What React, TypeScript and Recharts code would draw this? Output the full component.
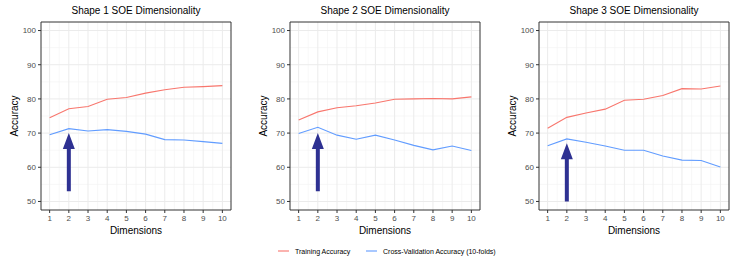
import React from "react";
import {
  LineChart,
  Line,
  XAxis,
  YAxis,
  CartesianGrid,
  ReferenceLine,
  ReferenceArea,
} from "recharts";

// dimensions tested for each shape
const dims = [1, 2, 3, 4, 5, 6, 7, 8, 9, 10];

const shape1Train = [74.5, 77.1, 77.8, 79.9, 80.4, 81.7, 82.7, 83.4, 83.6, 83.9];
const shape1Cv = [69.5, 71.3, 70.6, 71.0, 70.5, 69.7, 68.1, 68.0, 67.5, 67.0];

const shape2Train = [73.8, 76.2, 77.4, 78.0, 78.8, 79.9, 80.0, 80.1, 80.0, 80.6];
const shape2Cv = [69.9, 71.7, 69.4, 68.2, 69.4, 68.0, 66.4, 65.1, 66.2, 64.9];

const shape3Train = [71.4, 74.6, 75.9, 77.0, 79.6, 79.9, 81.0, 83.0, 82.9, 83.8];
const shape3Cv = [66.3, 68.3, 67.3, 66.2, 65.0, 65.0, 63.3, 62.1, 62.0, 60.1];

const titles = ["Shape 1 SOE Dimensionality", "Shape 2 SOE Dimensionality", "Shape 3 SOE Dimensionality"];
// arrow marking the chosen dimensionality: [dimension, from accuracy, to accuracy]
const arrows: [number, number, number][] = [
  [2, 53, 70],
  [2, 53, 70],
  [2, 50, 67],
];

const yTicks = [50, 60, 70, 80, 90, 100];
const yMinor = [55, 65, 75, 85, 95];
const xMinor = [1.5, 2.5, 3.5, 4.5, 5.5, 6.5, 7.5, 8.5, 9.5];

const RED = "#F8766D";
const BLUE = "#619CFF";
const NAVY = "#2E3192";
const FONT = "'Liberation Sans', Arial, Helvetica, sans-serif";

const X_DOMAIN: [number, number] = [0.55, 10.45];
const Y_DOMAIN: [number, number] = [47.5, 102.5];

const CHART_W = 235;
const CHART_H = 240;
const Y_AXIS_W = 41;
const panelLeft = [0, 249, 498];

function Arrow(props: any) {
  const { x1, y1, x2, y2 } = props;
  const x = (x1 + x2) / 2;
  const tip = Math.min(y1, y2);
  const base = Math.max(y1, y2);
  const headLen = 16;
  const headHalf = 6;
  const shaftHalf = 2;
  const d = [
    `M${x - shaftHalf},${base}`,
    `L${x - shaftHalf},${tip + headLen}`,
    `L${x - headHalf},${tip + headLen}`,
    `L${x},${tip}`,
    `L${x + headHalf},${tip + headLen}`,
    `L${x + shaftHalf},${tip + headLen}`,
    `L${x + shaftHalf},${base}`,
    "Z",
  ].join(" ");
  return <path d={d} fill={NAVY} stroke="none" />;
}

function Panel({ train, cv, arrow }: { train: number[]; cv: number[]; arrow: [number, number, number] }) {
  const rows = dims.map((d, i) => ({ dim: d, train: train[i], cv: cv[i] }));
  const tickStyle = { fontSize: 8, fill: "#4D4D4D", fontFamily: FONT };
  return (
    <LineChart width={CHART_W} height={CHART_H} data={rows} margin={{ top: 22, right: 4, bottom: 0, left: 0 }}>
      <CartesianGrid
        horizontalValues={yMinor}
        verticalValues={xMinor}
        stroke="#F2F2F2"
        strokeWidth={0.6}
      />
      <CartesianGrid horizontalValues={yTicks} verticalValues={dims} stroke="#EBEBEB" strokeWidth={1} />
      <XAxis
        type="number"
        dataKey="dim"
        domain={X_DOMAIN}
        ticks={dims}
        interval={0}
        height={CHART_H - 22 - 188}
        tickSize={3}
        tickMargin={2}
        axisLine={false}
        tickLine={{ stroke: "#333333" }}
        tick={tickStyle}
      />
      <YAxis
        type="number"
        domain={Y_DOMAIN}
        ticks={yTicks}
        interval={0}
        width={Y_AXIS_W}
        tickSize={3}
        tickMargin={2}
        axisLine={false}
        tickLine={{ stroke: "#333333" }}
        tick={tickStyle}
      />
      <Line type="linear" dataKey="train" stroke={RED} strokeWidth={1.1} dot={false} isAnimationActive={false} />
      <Line type="linear" dataKey="cv" stroke={BLUE} strokeWidth={1.1} dot={false} isAnimationActive={false} />
      <ReferenceLine
        segment={[
          { x: arrow[0], y: arrow[1] },
          { x: arrow[0], y: arrow[2] },
        ]}
        shape={Arrow}
      />
      <ReferenceArea
        x1={X_DOMAIN[0]}
        x2={X_DOMAIN[1]}
        y1={Y_DOMAIN[0]}
        y2={Y_DOMAIN[1]}
        fill="none"
        stroke="#333333"
        strokeWidth={1}
        ifOverflow="visible"
      />
    </LineChart>
  );
}

const seriesSets = [
  [shape1Train, shape1Cv],
  [shape2Train, shape2Cv],
  [shape3Train, shape3Cv],
];

export default function App() {
  return (
    <div
      style={{
        position: "absolute",
        left: 0,
        top: 0,
        width: 733,
        height: 279,
        background: "#fff",
        fontFamily: FONT,
        overflow: "hidden",
      }}
    >
      {seriesSets.map(([train, cv], i) => {
        const left = panelLeft[i];
        const plotL = left + Y_AXIS_W;
        const plotW = CHART_W - Y_AXIS_W - 4;
        return (
          <React.Fragment key={i}>
            <div style={{ position: "absolute", left, top: 0 }}>
              <Panel train={train} cv={cv} arrow={arrows[i]} />
            </div>
            <div
              style={{
                position: "absolute",
                left: plotL,
                width: plotW,
                top: 5,
                fontSize: 10,
                lineHeight: "12px",
                textAlign: "center",
                color: "#000",
              }}
            >
              {titles[i]}
            </div>
            <div
              style={{
                position: "absolute",
                left: plotL,
                width: plotW,
                top: 225,
                fontSize: 10,
                lineHeight: "12px",
                textAlign: "center",
                color: "#000",
              }}
            >
              Dimensions
            </div>
            <div
              style={{
                position: "absolute",
                left: left + 15 - 30,
                top: 116 - 6,
                width: 60,
                fontSize: 10,
                lineHeight: "12px",
                textAlign: "center",
                color: "#000",
                transform: "rotate(-90deg)",
              }}
            >
              Accuracy
            </div>
          </React.Fragment>
        );
      })}
      <svg
        width={733}
        height={20}
        style={{ position: "absolute", left: 0, top: 241 }}
        fontFamily={FONT}
        fontSize={7}
      >
        <line x1={278} x2={289} y1={10} y2={10} stroke={RED} strokeWidth={1.1} />
        <text x={295} y={12.5} fill="#000">
          Training Accuracy
        </text>
        <line x1={366} x2={377} y1={10} y2={10} stroke={BLUE} strokeWidth={1.1} />
        <text x={383} y={12.5} fill="#000">
          Cross-Validation Accuracy (10-folds)
        </text>
      </svg>
    </div>
  );
}
